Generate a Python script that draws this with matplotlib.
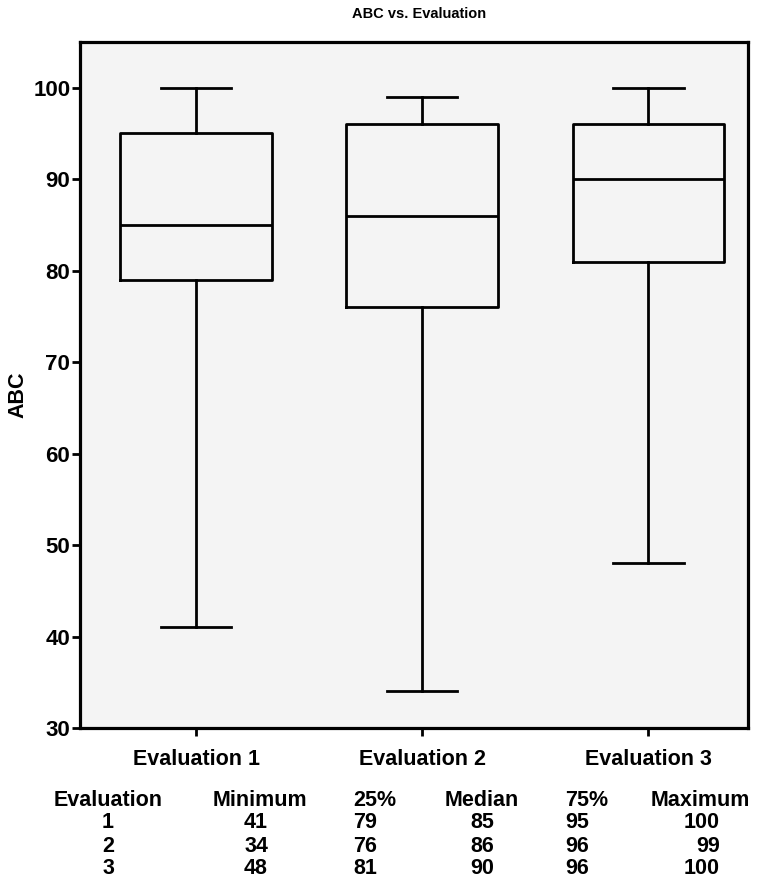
import matplotlib
matplotlib.use("Agg")
import matplotlib.pyplot as plt

# summary values per evaluation (from the table under the chart)
groups = ["Evaluation 1", "Evaluation 2", "Evaluation 3"]
eval_ids = ["1", "2", "3"]
minimum = [41, 34, 48]
q1 = [79, 76, 81]
median = [85, 86, 90]
q3 = [95, 96, 96]
maximum = [100, 99, 100]
yticks = [30, 40, 50, 60, 70, 80, 90, 100]
col_heads = ["Evaluation", "Minimum", "25%", "Median", "75%", "Maximum"]

plt.rcParams['font.family'] = ['Liberation Sans', 'DejaVu Sans']
plt.rcParams['font.weight'] = 'bold'
fs = 15.5

fig = plt.figure(figsize=(7.68, 8.90), dpi=100)
ax = fig.add_axes([80/768, 1 - 728/890, 668/768, 686/890])
ax.set_facecolor("#f4f4f4")

stats = []
for i in range(len(groups)):
    stats.append({"whislo": minimum[i], "q1": q1[i], "med": median[i],
                  "q3": q3[i], "whishi": maximum[i], "label": groups[i]})

lw = 2.0
ax.bxp(stats, positions=[1, 2, 3], widths=0.67, showfliers=False,
       boxprops=dict(color="black", linewidth=lw),
       medianprops=dict(color="black", linewidth=lw),
       whiskerprops=dict(color="black", linewidth=lw),
       capprops=dict(color="black", linewidth=lw),
       capwidths=0.31)

ax.set_xlim(0.487, 3.44)
ax.set_ylim(30, 105)
ax.set_yticks(yticks)
ax.set_yticklabels([str(t) for t in yticks], fontsize=16, fontweight="bold")
ax.set_xticks([1, 2, 3])
ax.set_xticklabels(groups, fontsize=fs, fontweight="bold")
ax.tick_params(axis="both", width=2, length=6, color="black")
ax.tick_params(axis="x", pad=9)
ax.tick_params(axis="y", pad=1)
for sp in ax.spines.values():
    sp.set_linewidth(2.3)

fig.text(18/768, 1 - 395/890, "ABC", rotation=90, ha="center", va="center",
         fontsize=fs, fontweight="bold")
fig.text(419/768, 1 - 14/890, "ABC vs. Evaluation", ha="center", va="center",
         fontsize=10.5, fontweight="bold")

# summary table under the plot
head_x = [108, 260, 353, 482, 565, 700]
head_ha = ["center", "center", "left", "center", "left", "center"]
val_x = [108, 256, 353, 482, 565, 720]
val_ha = ["center", "center", "left", "center", "left", "right"]
row_y = [800, 823, 846, 869]
for x, ha, h in zip(head_x, head_ha, col_heads):
    fig.text(x/768, 1 - row_y[0]/890, h, ha=ha, va="center",
             fontsize=fs, fontweight="bold")
cols = [eval_ids, minimum, q1, median, q3, maximum]
for r in range(3):
    for c in range(len(cols)):
        fig.text(val_x[c]/768, 1 - row_y[r+1]/890, str(cols[c][r]),
                 ha=val_ha[c], va="center", fontsize=fs, fontweight="bold")

fig.savefig("out.png", dpi=100, facecolor="white")
